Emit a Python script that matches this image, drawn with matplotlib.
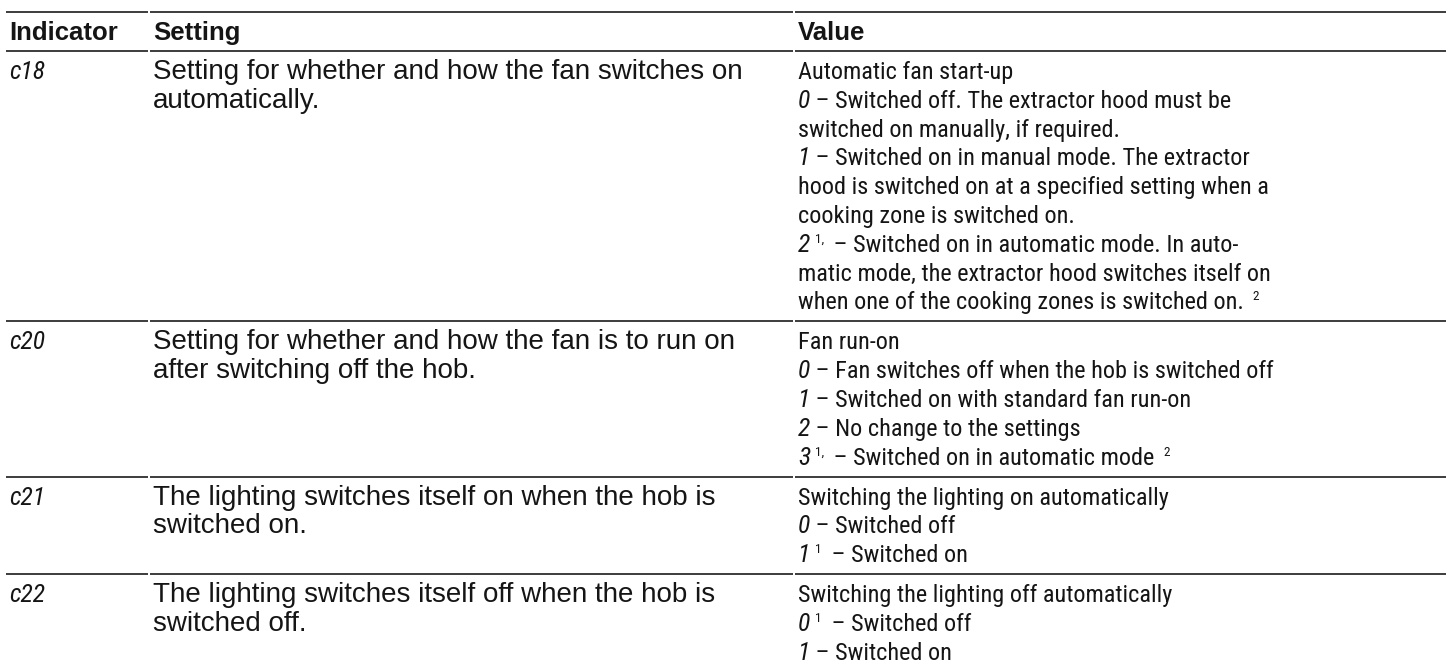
import matplotlib
matplotlib.use("Agg")
import matplotlib.pyplot as plt
from matplotlib import font_manager

# table content
headers = ["Indicator", "Setting", "Value"]
indicators = ["c18", "c20", "c21", "c22"]
settings = [
    ["Setting for whether and how the fan switches on", "automatically."],
    ["Setting for whether and how the fan is to run on", "after switching off the hob."],
    ["The lighting switches itself on when the hob is", "switched on."],
    ["The lighting switches itself off when the hob is", "switched off."],
]
# each value line: (display digit, superscript after digit, text, superscript at end)
values = [
    [("", "", "Automatic fan start-up", ""),
     ("0", "", " \u2013 Switched off. The extractor hood must be", ""),
     ("", "", "switched on manually, if required.", ""),
     ("1", "", " \u2013 Switched on in manual mode. The extractor", ""),
     ("", "", "hood is switched on at a specified setting when a", ""),
     ("", "", "cooking zone is switched on.", ""),
     ("2", "1,", " \u2013 Switched on in automatic mode. In auto-", ""),
     ("", "", "matic mode, the extractor hood switches itself on", ""),
     ("", "", "when one of the cooking zones is switched on.", "2")],
    [("", "", "Fan run-on", ""),
     ("0", "", " \u2013 Fan switches off when the hob is switched off", ""),
     ("1", "", " \u2013 Switched on with standard fan run-on", ""),
     ("2", "", " \u2013 No change to the settings", ""),
     ("3", "1,", " \u2013 Switched on in automatic mode", "2")],
    [("", "", "Switching the lighting on automatically", ""),
     ("0", "", " \u2013 Switched off", ""),
     ("1", "1", " \u2013 Switched on", "")],
    [("", "", "Switching the lighting off automatically", ""),
     ("0", "1", " \u2013 Switched off", ""),
     ("1", "", " \u2013 Switched on", "")],
]

W, H = 1446, 666
fig = plt.figure(figsize=(W / 100, H / 100), dpi=100)
ax = fig.add_axes([0, 0, 1, 1])
ax.set_xlim(0, W)
ax.set_ylim(H, 0)
ax.axis("off")
renderer = fig.canvas.get_renderer()

# the value column uses a condensed face; take the narrowest one installed
installed = {f.name for f in font_manager.fontManager.ttflist}
narrow = next((n for n in ["Liberation Sans Narrow", "Roboto Condensed", "Arial Narrow",
                           "Roboto", "Liberation Sans"] if n in installed), "DejaVu Sans")

ink = "#151515"
rule = "#3c3c3c"
col_x = [9, 153, 798]
col_edges = [(6, 148), (150, 793), (795, W)]
pitch = 28.8


def width(s, **kw):
    t = ax.text(0, 0, s, **kw)
    w = t.get_window_extent(renderer).width
    t.remove()
    return w


# scale the narrow face so its line length matches the condensed type of the sheet
probe = "Switching the lighting on automatically"
val_size = min(19.0, 19.0 * 370 / width(probe, family=[narrow], fontsize=19))

head_font = dict(family=["Liberation Sans", "DejaVu Sans"], fontweight="bold", fontsize=18.5)
set_font = dict(family=["Liberation Sans", "DejaVu Sans"], fontsize=20)
val_font = dict(family=[narrow, "DejaVu Sans"], fontsize=val_size)
seg_font = dict(family=[narrow, "DejaVu Sans"], fontstyle="italic", fontsize=val_size + 1)
sup_font = dict(family=[narrow, "DejaVu Sans"], fontsize=9.5)


def put(x, y, s, **kw):
    t = ax.text(x, y, s, va="baseline", ha="left", color=ink, **kw)
    return x + t.get_window_extent(renderer).width


def hrule(y):
    for a, b in col_edges:
        ax.plot([a, b], [y, y], color=rule, lw=1.4, solid_capstyle="butt")


hrule(12)
for x, h in zip(col_x, headers):
    put(x, 40, h, **head_font)
hrule(51)

top = 51
for k, (ind, sett, vals) in enumerate(zip(indicators, settings, values)):
    base = top + 28
    put(col_x[0], base, ind, **seg_font)
    for i, line in enumerate(sett):
        put(col_x[1], base + i * pitch, line, **set_font)
    for i, (dig, sup, txt, endsup) in enumerate(vals):
        y = base + i * pitch
        x = col_x[2]
        if dig:
            x = put(x, y, dig, **seg_font)
            if sup:
                x = put(x + 5, y - 9, sup, **sup_font) + 4
        x = put(x, y, txt, **val_font)
        if endsup:
            put(x + 9, y - 9, endsup, **sup_font)
    top = base + (len(vals) - 1) * pitch + 12
    if k < len(indicators) - 1:
        hrule(top)

fig.savefig("out.png", dpi=100)
